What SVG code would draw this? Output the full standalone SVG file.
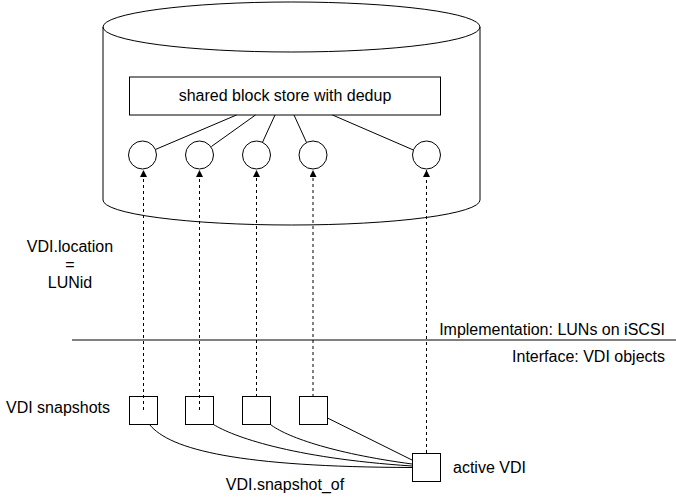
<svg xmlns="http://www.w3.org/2000/svg" width="676" height="502" viewBox="0 0 676 502">
<style>
.s{fill:none;stroke:#000;stroke-width:1}
.b{fill:#fff;stroke:#000;stroke-width:1}
.d{fill:none;stroke:#000;stroke-width:1;stroke-dasharray:3 3}
text{font-family:"Liberation Sans",Arial,Helvetica,sans-serif;font-size:16px;fill:#000}
</style>
<defs>
<marker id="ah" viewBox="0 0 10 10" refX="10" refY="5" markerWidth="7" markerHeight="7" markerUnits="userSpaceOnUse" orient="auto">
<path d="M0,0 L10,5 L0,10 Z" fill="#000"/>
</marker>
</defs>
<rect width="676" height="502" fill="#fff"/>
<g id="storage">
<path class="b" d="M103,27 A188.5,25 0 0 1 480,27 L480,200 A188.5,25 0 0 1 103,200 Z"/>
<path class="s" d="M103,27 A188.5,25 0 0 0 480,27"/>
</g>
<g id="blockstore">
<rect class="b" x="129.5" y="77" width="311" height="38"/>
<text x="285" y="101" text-anchor="middle">shared block store with dedup</text>
</g>
<g id="luns">
<circle id="lun1" class="b" cx="142.5" cy="155" r="14"/>
<circle id="lun2" class="b" cx="199.5" cy="155" r="14"/>
<circle id="lun3" class="b" cx="256.5" cy="155" r="14"/>
<circle id="lun4" class="b" cx="313" cy="155" r="14"/>
<circle id="lun5" class="b" cx="426.5" cy="155" r="14"/>
</g>
<g id="divider">
<line class="s" x1="72" y1="340" x2="676" y2="340"/>
<text x="665" y="335" text-anchor="end">Implementation: LUNs on iSCSI</text>
<text x="665" y="362" text-anchor="end">Interface: VDI objects</text>
</g>
<g id="labels">
<text x="70" y="252" text-anchor="middle">VDI.location</text>
<text x="70" y="270" text-anchor="middle">=</text>
<text x="70" y="288" text-anchor="middle">LUNid</text>
<text x="6" y="413">VDI snapshots</text>
<text x="453" y="473">active VDI</text>
<text x="285" y="490" text-anchor="middle">VDI.snapshot_of</text>
</g>
<g id="connectors">
<line class="s" x1="236.5" y1="115" x2="155.4" y2="149.5"/>
<line class="s" x1="255.5" y1="115" x2="211.4" y2="146.5"/>
<line class="s" x1="275" y1="115" x2="262.5" y2="142.3"/>
<line class="s" x1="294" y1="115" x2="306.6" y2="142.6"/>
<line class="s" x1="332.5" y1="115" x2="413.4" y2="150"/>
<line class="d" x1="143.5" y1="410" x2="143.5" y2="170" marker-end="url(#ah)"/>
<line class="d" x1="199.5" y1="410" x2="199.5" y2="170" marker-end="url(#ah)"/>
<line class="d" x1="256.5" y1="397" x2="256.5" y2="170" marker-end="url(#ah)"/>
<line class="d" x1="313" y1="397" x2="313" y2="170" marker-end="url(#ah)"/>
<line class="d" x1="426.5" y1="453" x2="426.5" y2="170" marker-end="url(#ah)"/>
<path class="s" d="M149.5,424.5 C170,450 240,467 412,467.5"/>
<path class="s" d="M213.5,424.5 C232,436 290,458 412,466"/>
<path class="s" d="M270.5,424.5 C285,436 330,453 412,464"/>
<path class="s" d="M327.5,418 L412,460"/>
</g>
<g id="snapshots">
<rect id="snap1" class="s" x="129.5" y="396.5" width="28" height="28"/>
<rect id="snap2" class="s" x="185.5" y="396.5" width="28" height="28"/>
<rect id="snap3" class="b" x="242.5" y="396.5" width="28" height="28"/>
<rect id="snap4" class="b" x="299.5" y="396.5" width="28" height="28"/>
</g>
<g id="active">
<rect class="b" x="412.5" y="453.5" width="28" height="28"/>
</g>
</svg>
